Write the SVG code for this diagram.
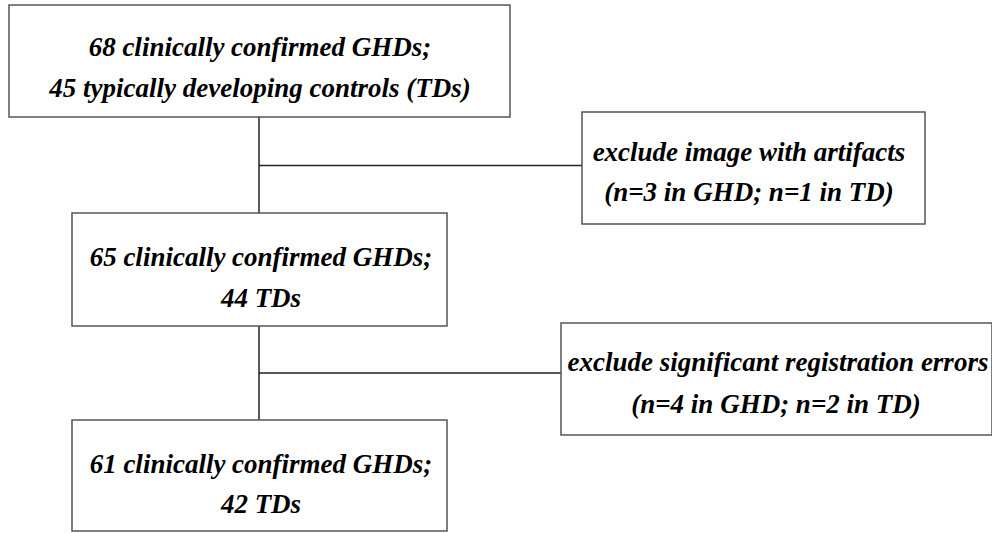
<svg xmlns="http://www.w3.org/2000/svg" width="992" height="533" viewBox="0 0 992 533">
<style>
.box{fill:#fff;stroke:#555;stroke-width:1.5}
.t{font-family:"Liberation Serif","Times New Roman",serif;font-weight:bold;font-style:italic;font-size:27px;fill:#000;text-anchor:middle}
.c{stroke:#222;stroke-width:1.5;fill:none}
</style>
<rect width="992" height="533" fill="#fff"/>
<g id="connectors">
<line class="c" x1="259" y1="117" x2="259" y2="213"/>
<line class="c" x1="259" y1="165.5" x2="582" y2="165.5"/>
<line class="c" x1="259" y1="326" x2="259" y2="420"/>
<line class="c" x1="259" y1="373" x2="561" y2="373"/>
</g>
<g id="n1">
<rect class="box" x="9" y="5" width="501" height="112"/>
<text class="t" x="260" y="56">68 clinically confirmed GHDs;</text>
<text class="t" x="260" y="97">45 typically developing controls (TDs)</text>
</g>
<g id="n2">
<rect class="box" x="582" y="112" width="343" height="112"/>
<text class="t" x="749" y="161">exclude image with artifacts</text>
<text class="t" x="749" y="201">(n=3 in GHD; n=1 in TD)</text>
</g>
<g id="n3">
<rect class="box" x="72" y="213" width="375" height="113"/>
<text class="t" x="261" y="266">65 clinically confirmed GHDs;</text>
<text class="t" x="261" y="307">44 TDs</text>
</g>
<g id="n4">
<rect class="box" x="561" y="323" width="431" height="112"/>
<text class="t" x="778" y="371">exclude significant registration errors</text>
<text class="t" x="776" y="413">(n=4 in GHD; n=2 in TD)</text>
</g>
<g id="n5">
<rect class="box" x="72" y="420" width="375" height="111"/>
<text class="t" x="261" y="473">61 clinically confirmed GHDs;</text>
<text class="t" x="261" y="513">42 TDs</text>
</g>
</svg>
